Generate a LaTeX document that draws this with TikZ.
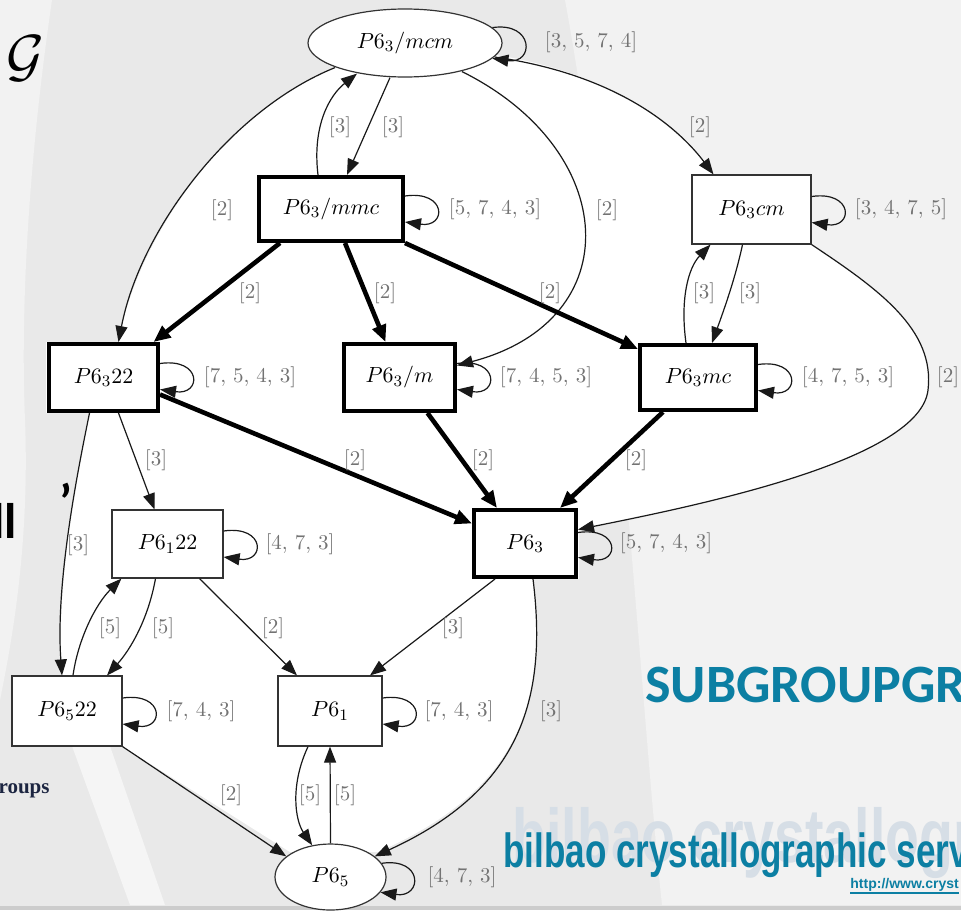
\documentclass[tikz,border=0pt]{standalone}
\usepackage{fontspec}
\usepackage{graphicx}
\usetikzlibrary{arrows.meta,calc,shapes.geometric}
\newfontfamily\carlito{Carlito}
\newfontfamily\lsans{Liberation Sans}
\newfontfamily\lserif{Liberation Serif}
\definecolor{bgA}{HTML}{F2F2F2}
\definecolor{bgB}{HTML}{E9E9E9}
\definecolor{bgC}{HTML}{F5F5F5}
\definecolor{tealA}{HTML}{0C7FA3}
\definecolor{shadowc}{HTML}{D6DEE6}
\definecolor{navyA}{HTML}{1C2541}
\definecolor{lblc}{HTML}{737373}
\begin{document}
\begin{tikzpicture}[x=0.5pt,y=-0.5pt,
  nodefont/.style={font=\fontsize{11}{13}\selectfont},
  gbox/.style={rectangle, draw=black!80, line width=0.6pt, fill=white, inner sep=0pt, nodefont},
  tbox/.style={rectangle, draw=black, line width=2pt, fill=white, inner sep=0pt, nodefont},
  gell/.style={ellipse, draw=black!80, line width=0.6pt, fill=white, inner sep=0pt, nodefont},
  lbl/.style={text=lblc, font=\fontsize{10.5}{12}\selectfont, inner sep=0pt},
  thinedge/.style={draw=black!90, line width=0.6pt, -{Triangle[length=8pt,width=6pt]}},
  thickedge/.style={draw=black, line width=2.3pt, -{Triangle[length=8.5pt,width=7pt]}},
  slide/.style={inner sep=0pt}
]
\useasboundingbox (0,0) rectangle (961,910);
\clip (0,0) rectangle (961,910);
% background
\fill[bgB] (0,0) rectangle (961,910);
\fill[bgA] (0,0) -- (52,0) .. controls (30,150) and (20,300) .. (25,420) .. controls (30,550) and (10,650) .. (0,700) -- cycle;
\fill[bgA] (565,0) -- (961,0) -- (961,905) -- (662,905) .. controls (640,700) and (620,300) .. (565,0) -- cycle;
\fill[bgC] (72,746) -- (110,746) -- (165,905) -- (130,905) -- cycle;
\fill[black!20] (0,906) rectangle (961,910);
% white graph area
\fill[white] (335,67) .. controls (230,110) and (140,230) .. (118,342)
  -- (46,342) -- (46,413) -- (90,413)
  .. controls (80,460) and (55,580) .. (62,676)
  -- (11,676) -- (11,746) -- (122,746) -- (290,852) -- (378,852)
  .. controls (520,790) and (548,700) .. (533,579)
  -- (579,579) -- (579,529)
  .. controls (700,505) and (920,460) .. (928,390)
  .. controls (935,330) and (880,290) .. (811,244)
  -- (812,174) -- (713,174)
  .. controls (680,130) and (620,75) .. (496,55)
  -- (405,43) -- cycle;
% slide texts
\node[slide, anchor=base west] (calg) at (6,75) {\scalebox{2.9}{$\mathcal{G}$}};
\node[slide, anchor=base east, font=\carlito\bfseries\fontsize{25}{28}\selectfont] (sll) at (17,538) {ll};
\node[slide, anchor=base, font=\carlito\bfseries\fontsize{25}{28}\selectfont] (squote) at (66,519) {’};
\node[slide, anchor=base east, text=navyA, font=\lserif\bfseries\fontsize{10.5}{12}\selectfont] (roups) at (50,793) {roups};
\node[slide, anchor=base west, text=tealA, font=\carlito\bfseries\fontsize{27}{30}\selectfont] (subg) at (645,702) {SUBGROUPGR};
\node[slide, anchor=base west, text=shadowc, font=\lsans\bfseries\fontsize{38}{40}\selectfont] (bshadow) at (512,862) {\scalebox{0.73}[1]{bilbao crystallogr}};
\node[slide, anchor=base west, text=tealA, font=\lsans\bfseries\fontsize{24}{26}\selectfont] (bfront) at (503,867) {\scalebox{0.73}[1]{bilbao crystallographic serv}};
\node[slide, anchor=base west, text=tealA, font=\lsans\bfseries\fontsize{7}{8}\selectfont] (url) at (850,888) {http://www.cryst};
\draw[tealA, line width=0.6pt] ($(url.base west)+(0,5)$) -- ($(url.base east)+(0,5)$);
% nodes
\node[gell, minimum width=97pt, minimum height=34pt] (mcm) at (405,43) {$P6_3/mcm$};
\node[tbox, minimum width=72pt, minimum height=32pt] (mmc) at (331,209) {$P6_3/mmc$};
\node[gbox, minimum width=59.5pt, minimum height=34.5pt] (cm) at (751.5,209.5) {$P6_3cm$};
\node[tbox, minimum width=54.5pt, minimum height=33.5pt] (p6322) at (103.5,377.5) {$P6_322$};
\node[tbox, minimum width=55.5pt, minimum height=33.5pt] (p63m) at (399.5,377.5) {$P6_3/m$};
\node[tbox, minimum width=58pt, minimum height=32.5pt] (mc) at (698,377.5) {$P6_3mc$};
\node[tbox, minimum width=51pt, minimum height=33.5pt] (p63) at (525,543.5) {$P6_3$};
\node[gbox, minimum width=55.5pt, minimum height=34pt] (p6122) at (167.5,544) {$P6_122$};
\node[gbox, minimum width=55pt, minimum height=35pt] (p6522) at (67,711) {$P6_522$};
\node[gbox, minimum width=52pt, minimum height=35pt] (p61) at (330,711) {$P6_1$};
\node[gell, minimum width=55.5pt, minimum height=33pt] (p65) at (330.5,877) {$P6_5$};
% edges
\draw[thinedge] ($(mmc.north)+(-13,0)$) .. controls (312,125) and (330,95) .. ($(mcm.south)+(-48,-4)$);
\draw[thinedge] ($(mcm.south)+(-15,0)$) -- ($(mmc.north)+(16,0)$);
\draw[thinedge] ($(mcm.south)+(-70,-10)$) .. controls (230,110) and (140,230) .. ($(p6322.north)+(15,0)$);
\draw[thinedge] ($(mcm.south)+(57,-6)$) .. controls (620,150) and (630,320) .. ($(p63m.east)+(0,-12)$);
\draw[thinedge] ($(mcm.east)+(-8,14)$) .. controls (620,75) and (680,130) .. ($(cm.north)+(-38,0)$);
\draw[thickedge] ($(mmc.south)+(-51,0)$) -- ($(p6322.north)+(50,0)$);
\draw[thickedge] ($(mmc.south)+(14,0)$) -- ($(p63m.north)+(-14,0)$);
\draw[thickedge] (mmc.south east) -- ($(mc.north west)+(0,6)$);
\draw[thinedge] ($(cm.south)+(-9,0)$) .. controls (735,280) and (722,315) .. ($(mc.north)+(14,0)$);
\draw[thinedge] ($(mc.north)+(-12,0)$) .. controls (680,300) and (688,268) .. ($(cm.south)+(-41,0)$);
\draw[thinedge] (cm.south east) .. controls (880,290) and (935,330) .. (928,390) .. controls (920,460) and (700,505) .. ($(p63.east)+(0,-14)$);
\draw[thickedge] ($(p6322.east)+(0,17)$) -- ($(p63.west)+(0,-20)$);
\draw[thickedge] ($(p63m.south)+(28,0)$) -- ($(p63.north)+(-28,0)$);
\draw[thickedge] ($(mc.south)+(-35,0)$) -- ($(p63.north)+(35,0)$);
\draw[thinedge] ($(p6322.south)+(15,0)$) -- ($(p6122.north)+(-13,0)$);
\draw[thinedge] ($(p6322.south)+(-14,0)$) .. controls (80,460) and (55,580) .. ($(p6522.north)+(-5,0)$);
\draw[thinedge] ($(p6122.south)+(-12,0)$) .. controls (148,620) and (130,650) .. ($(p6522.north)+(40,0)$);
\draw[thinedge] ($(p6522.north)+(6,0)$) .. controls (78,640) and (95,605) .. ($(p6122.south west)+(10,0)$);
\draw[thinedge] ($(p6122.south)+(32,0)$) -- ($(p61.north)+(-33,0)$);
\draw[thinedge] ($(p63.south)+(-30,0)$) -- ($(p61.north)+(40,0)$);
\draw[thinedge] ($(p63.south)+(8,0)$) .. controls (548,700) and (520,790) .. (p65.25);
\draw[thinedge] (p6522.south east) -- (p65.155);
\draw[thinedge] ($(p61.south)+(-22,0)$) .. controls (290,785) and (295,820) .. (p65.120);
\draw[thinedge] (p65.north) -- (p61.south);
% self loops
\draw[thinedge] (mcm.10) .. controls +(42,-6) and +(42,6) .. (mcm.-10);
\draw[thinedge] ($(mmc.east)+(0,-13)$) .. controls +(42,-6) and +(42,6) .. ($(mmc.east)+(0,13)$);
\draw[thinedge] ($(cm.east)+(0,-13)$) .. controls +(42,-6) and +(42,6) .. ($(cm.east)+(0,13)$);
\draw[thinedge] ($(p6322.east)+(0,-14)$) .. controls +(42,-6) and +(42,6) .. ($(p6322.east)+(0,12)$);
\draw[thinedge] ($(p63m.east)+(0,-14)$) .. controls +(42,-6) and +(42,6) .. ($(p63m.east)+(0,12)$);
\draw[thinedge] ($(mc.east)+(0,-13)$) .. controls +(42,-6) and +(42,6) .. ($(mc.east)+(0,13)$);
\draw[thinedge] ($(p63.east)+(0,-11)$) .. controls +(42,-6) and +(42,6) .. ($(p63.east)+(0,14)$);
\draw[thinedge] ($(p6122.east)+(0,-13)$) .. controls +(42,-6) and +(42,6) .. ($(p6122.east)+(0,13)$);
\draw[thinedge] ($(p6522.east)+(0,-13)$) .. controls +(42,-6) and +(42,6) .. ($(p6522.east)+(0,13)$);
\draw[thinedge] ($(p61.east)+(0,-13)$) .. controls +(42,-6) and +(42,6) .. ($(p61.east)+(0,13)$);
\draw[thinedge] (p65.15) .. controls +(42,-6) and +(42,6) .. (p65.-17);
% edge labels
\node[lbl] (la1) at (340,127) {[3]};
\node[lbl] (la2) at (393,127) {[3]};
\node[lbl] (la3) at (222,210) {[2]};
\node[lbl] (la4) at (607,210) {[2]};
\node[lbl] (la5) at (700,127) {[2]};
\node[lbl] (la6) at (250,293) {[2]};
\node[lbl] (la7) at (385,293) {[2]};
\node[lbl] (la8) at (550,293) {[2]};
\node[lbl] (la9) at (704,293) {[3]};
\node[lbl] (la10) at (750,293) {[3]};
\node[lbl] (la11) at (948,377) {[2]};
\node[lbl] (la12) at (355,460) {[2]};
\node[lbl] (la13) at (483,460) {[2]};
\node[lbl] (la14) at (636,460) {[2]};
\node[lbl] (la15) at (156,460) {[3]};
\node[lbl] (la16) at (78,545) {[3]};
\node[lbl] (la17) at (110,628) {[5]};
\node[lbl] (la18) at (163,628) {[5]};
\node[lbl] (la19) at (273,628) {[2]};
\node[lbl] (la20) at (453,628) {[3]};
\node[lbl] (la21) at (551,711) {[3]};
\node[lbl] (la22) at (231,795) {[2]};
\node[lbl] (la23) at (310,795) {[5]};
\node[lbl] (la24) at (345,795) {[5]};
% loop labels
\node[lbl] (lo1) at (591,42) {[3, 5, 7, 4]};
\node[lbl] (lo2) at (495,209) {[5, 7, 4, 3]};
\node[lbl] (lo3) at (901,209) {[3, 4, 7, 5]};
\node[lbl] (lo4) at (250,377) {[7, 5, 4, 3]};
\node[lbl] (lo5) at (546,377) {[7, 4, 5, 3]};
\node[lbl] (lo6) at (848,377) {[4, 7, 5, 3]};
\node[lbl] (lo7) at (666,543) {[5, 7, 4, 3]};
\node[lbl] (lo8) at (300,544) {[4, 7, 3]};
\node[lbl] (lo9) at (201,711) {[7, 4, 3]};
\node[lbl] (lo10) at (459,711) {[7, 4, 3]};
\node[lbl] (lo11) at (462,877) {[4, 7, 3]};
\end{tikzpicture}
\end{document}
